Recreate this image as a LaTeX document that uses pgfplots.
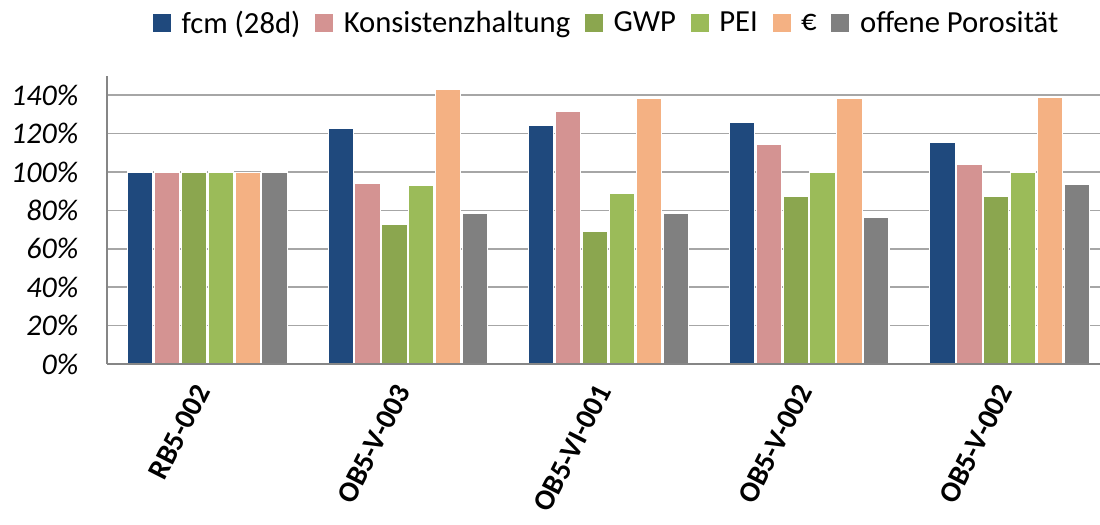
\documentclass[border=0pt]{standalone}
\usepackage{pgfplots}
\pgfplotsset{compat=1.18}
\usepackage{fontspec}
\setmainfont{Carlito}

\definecolor{cFcm}{HTML}{1F497D}
\definecolor{cKons}{HTML}{D49392}
\definecolor{cGwp}{HTML}{8BA64F}
\definecolor{cPei}{HTML}{9BBB59}
\definecolor{cEur}{HTML}{F4B183}
\definecolor{cPor}{HTML}{808080}
\definecolor{cGrid}{HTML}{A6A6A6}
\definecolor{cAxis}{HTML}{868686}

\begin{document}
\begin{tikzpicture}
  \begin{axis}[
      set layers,
      scale only axis,
      width=744.75pt, height=216pt,
      xmin=-0.5, xmax=4.45,
      ymin=0, ymax=150,
      ybar, bar width=0.126,
      axis x line*=bottom, axis y line*=left,
      axis line style={-, cAxis, line width=2pt},
      ytick={0,20,...,140},
      ymajorgrids,
      grid style={cGrid, line width=1.3pt},
      major tick length=0pt,
      xtick={0,1,2,3,4},
      xticklabels={RB5-002,OB5-V-003,OB5-VI-001,OB5-V-002,OB5-V-002},
      xticklabel style={font=\fontsize{22}{24}\selectfont\bfseries, xshift=-2pt, yshift=-14pt, rotate=63, anchor=east},
      yticklabel={\pgfmathprintnumber{\tick}\%},
      yticklabel style={font=\fontsize{22.5}{26}\selectfont\itshape, xshift=-18pt},
      /pgf/number format/assume math mode=true,
      every axis plot/.append style={draw=white, line width=0.8pt},
      legend columns=-1,
      legend style={draw=none, fill=none, at={(rel axis cs:0.5035,1.184)}, anchor=center,
        font=\fontsize{23}{26}\selectfont, inner sep=0pt,
        /tikz/every odd column/.append style={column sep=6pt},
        /tikz/every even column/.append style={column sep=9pt}},
      legend image code/.code={\fill[#1,draw=none] (0pt,-6.75pt) rectangle (13.5pt,6.75pt);},
    ]
    \addplot[fill=cFcm, bar shift=-0.335] coordinates {(0,100) (1,122.8) (2,124) (3,126) (4,115.6)};
    \addplot[fill=cKons, bar shift=-0.201] coordinates {(0,100) (1,93.9) (2,131.4) (3,114.4) (4,104)};
    \addplot[fill=cGwp, bar shift=-0.067] coordinates {(0,100) (1,72.9) (2,68.9) (3,87.1) (4,87.1)};
    \addplot[fill=cPei, bar shift=0.067] coordinates {(0,100) (1,93.2) (2,88.9) (3,100) (4,100)};
    \addplot[fill=cEur, bar shift=0.201] coordinates {(0,99.5) (1,143.1) (2,138.2) (3,138.2) (4,138.7)};
    \addplot[fill=cPor, bar shift=0.335] coordinates {(0,100) (1,78.6) (2,78.6) (3,76.4) (4,93.6)};
    \legend{fcm (28d),Konsistenzhaltung,GWP,PEI,€,offene Porosität}
    % bottom axis line drawn again above the bars
    \begin{pgfonlayer}{axis foreground}
      \draw[cAxis, line width=2pt] (rel axis cs:0,0) -- (rel axis cs:1,0);
    \end{pgfonlayer}
  \end{axis}
  \pgfresetboundingbox
  \useasboundingbox (-80.25pt,-120.75pt) rectangle (744.75pt,273pt);
\end{tikzpicture}
\end{document}
